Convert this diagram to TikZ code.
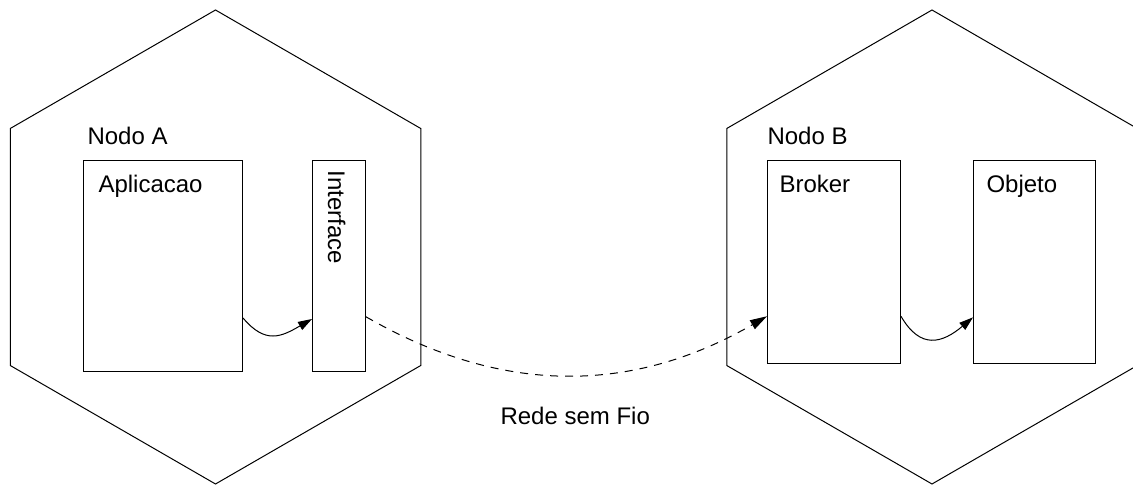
\documentclass[tikz,border=0pt]{standalone}
\usepackage{fontspec}
\setmainfont{Liberation Sans}
\usetikzlibrary{shapes.geometric}
\usetikzlibrary{arrows.meta}

\begin{document}
\begin{tikzpicture}[x=1pt, y=1pt, line width=1pt,
  every node/.style={font=\fontsize{24}{29}\selectfont},
  hexa/.style={draw, regular polygon, regular polygon sides=6, regular polygon rotate=30, minimum size=474pt, inner sep=0pt},
  caixa/.style={draw, rectangle, anchor=north west, inner sep=0pt},
  rotulo/.style={anchor=base west, inner sep=0pt},
  seta/.style={-{Triangle[length=14pt,width=9pt]}}]
\useasboundingbox (0,0) rectangle (1133,485);
\clip (0,0) rectangle (1133,485);

\node [hexa] (hexA) at (215.5,238) {};
\node [hexa] (hexB) at (932,238) {};

\node [caixa, minimum width=159pt, minimum height=211pt] (apl) at (83,325) {};
\node [caixa, minimum width=53pt, minimum height=211pt] (itf) at (312,325) {};
\node [caixa, minimum width=133pt, minimum height=203pt] (brk) at (767,325) {};
\node [caixa, minimum width=122pt, minimum height=203pt] (obj) at (973,325) {};

\node [rotulo] (nodoA) at (87,340) {Nodo A};
\node [rotulo] (aplTxt) at (98,292) {Aplicacao};
\node [rotulo, rotate=-90] (itfTxt) at (328,315) {Interface};
\node [rotulo] (nodoB) at (767,340) {Nodo B};
\node [rotulo] (brkTxt) at (779,292) {Broker};
\node [rotulo] (objTxt) at (986,292) {Objeto};
\node [rotulo] (rede) at (500,60) {Rede sem Fio};

\draw [seta] (apl.-33) to [out=-50, in=-150, looseness=1.3] (itf.-117);
\draw [-{Triangle[length=17pt,width=10pt]}, dash pattern=on 8pt off 7pt] (itf.-62) to [out=-30, in=-150] (brk.-141);
\draw [seta] (brk.-39) to [out=-60, in=-140, looseness=1.4] (obj.-138);
\end{tikzpicture}
\end{document}
